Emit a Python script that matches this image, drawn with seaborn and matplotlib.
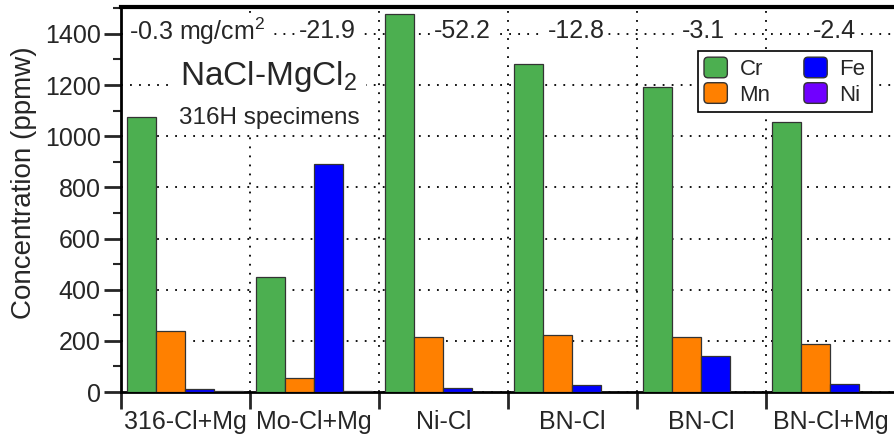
import numpy as np
import pandas as pd
import matplotlib
matplotlib.use("Agg")
import matplotlib.pyplot as plt
from matplotlib.ticker import MultipleLocator, FixedLocator
from matplotlib.legend_handler import HandlerPatch
from matplotlib.patches import FancyBboxPatch
import seaborn as sns

# --- data -------------------------------------------------------------------
samples   = ["316-Cl+Mg", "Mo-Cl+Mg", "Ni-Cl", "BN-Cl", "BN-Cl", "BN-Cl+Mg"]
cr_ppmw   = [1076, 451, 1476, 1284, 1191, 1054]
mn_ppmw   = [240, 55, 215, 222, 215, 186]
fe_ppmw   = [12, 892, 15, 28, 140, 30]
ni_ppmw   = [3, 5, 1, 0, 0, 0]
mass_loss = ["-0.3 mg/cm$^2$", "-21.9", "-52.2", "-12.8", "-3.1", "-2.4"]
elements  = ["Cr", "Mn", "Fe", "Ni"]
colors    = ["#4CAF50", "#FF8000", "#0000FF", "#7000FF"]

rows = []
for el, vals in zip(elements, [cr_ppmw, mn_ppmw, fe_ppmw, ni_ppmw]):
    for i, v in enumerate(vals):
        rows.append({"sample": i, "element": el, "ppmw": v})
df = pd.DataFrame(rows)

# --- style ------------------------------------------------------------------
sns.set_theme(style="white")
plt.rcParams["font.family"] = ["Liberation Sans", "DejaVu Sans"]
plt.rcParams["mathtext.fontset"] = "custom"
plt.rcParams["mathtext.rm"] = "Liberation Sans"
plt.rcParams["mathtext.default"] = "regular"

fig = plt.figure(figsize=(8.94, 4.41), dpi=100)
ax = fig.add_axes([0.135, 0.111, 0.866, 0.873])

sns.barplot(data=df, x="sample", y="ppmw", hue="element", hue_order=elements,
            palette=colors, saturation=1, width=0.9, edgecolor="#333333",
            linewidth=0.9, ax=ax, zorder=3)

ax.set_xlim(-0.5, 5.5)
ax.set_ylim(0, 1505)

# ticks
ax.yaxis.set_major_locator(MultipleLocator(200))
ax.yaxis.set_minor_locator(MultipleLocator(100))
ax.tick_params(axis="y", which="major", direction="out", length=12.5, width=2,
               labelsize=18, left=True, pad=2)
ax.tick_params(axis="y", which="minor", direction="out", length=6, width=1.5,
               left=True)

ax.set_xticks(range(len(samples)))
ax.set_xticklabels(samples)
ax.xaxis.set_minor_locator(FixedLocator(np.arange(-0.5, 5.0, 1.0)))
ax.tick_params(axis="x", which="major", length=0, labelsize=18, pad=13)
ax.tick_params(axis="x", which="minor", direction="out", length=12, width=2,
               bottom=True)

# dotted grid
dot = dict(color="black", linestyle=(0, (1, 4)), linewidth=1.3)
ax.grid(True, axis="y", which="major", **dot)
ax.grid(True, axis="x", which="minor", **dot)
ax.grid(False, axis="x", which="major")
ax.set_axisbelow(True)

for side in ["left", "bottom", "top"]:
    ax.spines[side].set_visible(True)
    ax.spines[side].set_color("black")
ax.spines["left"].set_linewidth(2)
ax.spines["bottom"].set_linewidth(2)
ax.spines["top"].set_linewidth(3)
ax.spines["right"].set_visible(False)

ax.set_xlabel("")
ax.set_ylabel("Concentration (ppmw)", fontsize=20)
ax.yaxis.set_label_coords(-0.108, 0.545)

# annotations
box = dict(facecolor="white", edgecolor="none", pad=2)
x_offsets = [0.09, 0.1, 0.15, 0.03, 0.02, 0.03]
for i, (txt, dx) in enumerate(zip(mass_loss, x_offsets)):
    ax.text(i + dx, 1410, txt, ha="center", va="center", fontsize=18,
            bbox=box, zorder=4)
ax.text(0.65, 1232, "NaCl-MgCl$_2$", ha="center", va="center", fontsize=24,
        bbox=dict(facecolor="white", edgecolor="none", pad=6), zorder=4)
ax.text(0.65, 1072, "316H specimens", ha="center", va="center", fontsize=17.5,
        bbox=dict(facecolor="white", edgecolor="none", pad=4), zorder=4)


def rounded_patch(legend, orig_handle, xdescent, ydescent, width, height, fontsize):
    return FancyBboxPatch((-xdescent, -ydescent), width, height,
                          boxstyle="round,pad=0,rounding_size=3")


handles, labels = ax.get_legend_handles_labels()
for h in handles:
    h.set_edgecolor("#333333")
    h.set_linewidth(1)
leg = ax.legend(handles, labels, ncol=2, loc="upper right",
                bbox_to_anchor=(0.970, 0.886), borderaxespad=0, fontsize=16,
                frameon=True, fancybox=False, edgecolor="black", framealpha=1,
                handlelength=1.05, handleheight=1.05, handletextpad=0.55,
                columnspacing=1.5, borderpad=0.28, labelspacing=0.12,
                handler_map={type(handles[0]): HandlerPatch(patch_func=rounded_patch)})
leg.get_frame().set_linewidth(1.2)

fig.savefig("out.png", dpi=100)
